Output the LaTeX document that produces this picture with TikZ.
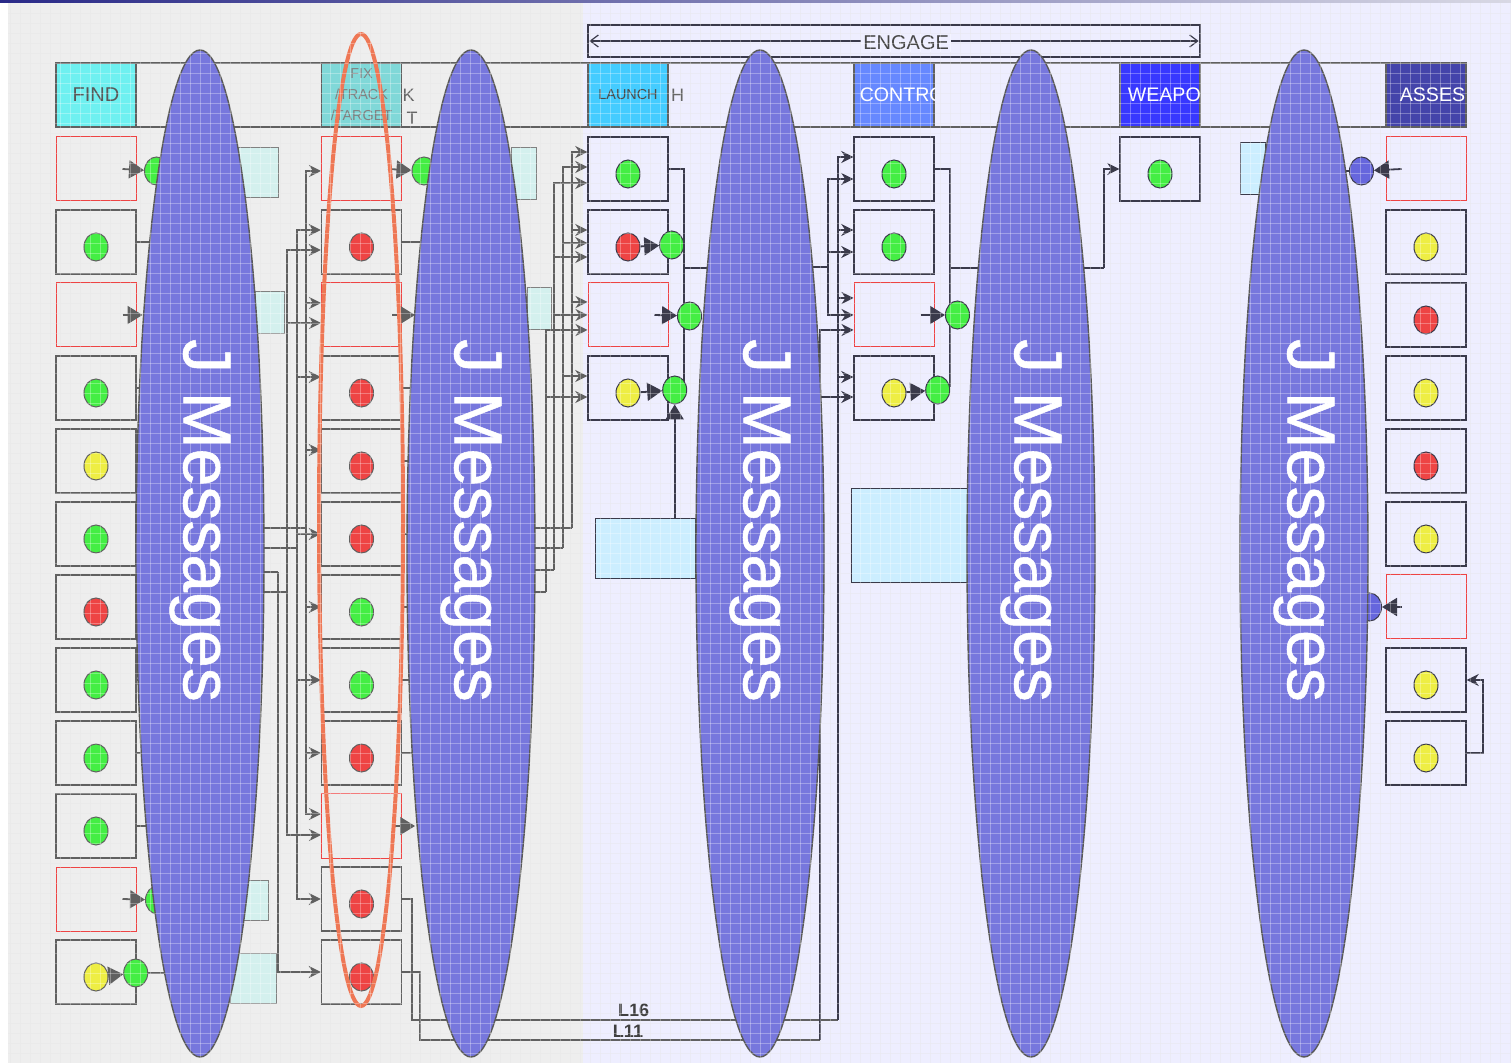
\documentclass[tikz,border=0pt]{standalone}
\usepackage{fontspec}
\setmainfont{Liberation Sans}
\newfontfamily\msgfont[FakeBold=0.8]{Liberation Sans}
\usepackage{tikz}
\usetikzlibrary{shapes.geometric,arrows.meta,positioning}

\definecolor{paper}{HTML}{EEEEEE}
\definecolor{lav}{HTML}{EEEEFF}
\definecolor{topnavy}{HTML}{2A2A88}
\definecolor{toplight}{HTML}{D8D8E4}
\definecolor{findc}{HTML}{6EF0F0}
\definecolor{fixc}{HTML}{80D8D8}
\definecolor{launchc}{HTML}{44CCFF}
\definecolor{ctrlc}{HTML}{6688FF}
\definecolor{weapc}{HTML}{3838FF}
\definecolor{assesc}{HTML}{4444AA}
\definecolor{msgc}{HTML}{7777DD}
\definecolor{ringc}{HTML}{EE7755}
\definecolor{padc}{HTML}{D4F0EE}
\definecolor{padb}{HTML}{CCEEFF}
\definecolor{wireL}{HTML}{606060}
\definecolor{wireR}{HTML}{3A3A4A}
\definecolor{gdot}{HTML}{44EE44}
\definecolor{rdot}{HTML}{EE4444}
\definecolor{ydot}{HTML}{EEEE44}
\definecolor{bdot}{HTML}{6666DD}
\definecolor{redline}{HTML}{EE4444}

\begin{document}
\begin{tikzpicture}[
    x=0.5pt, y=-0.5pt,
    cell/.style={rectangle, draw=wireL, line width=.7pt, minimum width=40pt, minimum height=32pt, inner sep=0pt},
    cellR/.style={draw=redline, line width=.5pt},
    cellg/.style={}, celly/.style={}, cellr/.style={},
    dot/.style={ellipse, draw=wireL, line width=.5pt, minimum width=12pt, minimum height=14pt, inner sep=0pt},
    dotg/.style={fill=gdot}, doty/.style={fill=ydot}, dotr/.style={fill=rdot}, dotb/.style={fill=bdot},
    hdr/.style={rectangle, draw=wireL, line width=.6pt, minimum width=40pt, minimum height=32pt, inner sep=0pt},
    hdrtxt/.style={anchor=west, inner sep=0pt, text=white, font=\fontsize{9.8}{9.8}\selectfont},
    pad/.style={rectangle, draw=wireL!80, fill=padc, line width=.5pt, inner sep=0pt},
    link/.style={draw=wireL, line width=.9pt},
    dark/.style={draw=wireR},
    arrow/.style={link, -{Stealth[length=6pt, width=6pt]}},
    gate/.style={link, -{Triangle[length=7.5pt, width=9pt]}},
    jmsg/.style={ellipse, draw=black!65, fill=msgc, line width=.7pt, text=white, rotate=-90,
        minimum width=503.5pt, minimum height=64pt, inner sep=0pt, font=\msgfont\fontsize{34}{34}\selectfont},
    lbl/.style={inner sep=1pt, text=black!75, font=\bfseries\fontsize{9}{9}\selectfont},
    gridlo/.style={black, opacity=.05, line width=.4pt},
    gridhi/.style={white, opacity=.3, line width=.4pt}
]
    % Page and grid
    \fill[white] (0,0) rectangle (1511,1063);
    \useasboundingbox (0,0) rectangle (1511,1063);
    \fill[paper] (8,3) rectangle (583,1063);
    \fill[lav] (583,3) rectangle (1511,1063);
    \shade[left color=topnavy, right color=toplight] (0,0) rectangle (1511,3);
    \foreach \gx in {10,20,...,1510} \draw[gridlo] (\gx,3) -- (\gx,1063);
    \foreach \gy in {13,23,...,1063} \draw[gridlo] (8,\gy) -- (1511,\gy);

    % Ellipse centres
    \coordinate (jm1c) at (200,553.5);
    \coordinate (jm2c) at (471,553.5);
    \coordinate (jm3c) at (760,553.5);
    \coordinate (jm4c) at (1031,553.5);
    \coordinate (jm5c) at (1304,553.5);

    % Engage span
    \node[draw=wireR, line width=.6pt, minimum width=306pt, minimum height=16pt, inner sep=0pt] (engage) at (894,41) {};
    \draw[{Straight Barb[length=4pt, width=6pt]}-{Straight Barb[length=4pt, width=6pt]}, wireR, line width=.6pt]
        ([xshift=1pt]engage.west) -- node[fill=lav, inner sep=1pt, text=black!72, font=\fontsize{10}{10}\selectfont, pos=.52, yshift=-1pt] (engage-t) {ENGAGE} ([xshift=-1pt]engage.east);

    % Header band
    \node[draw=wireL, line width=.6pt, minimum width=705pt, minimum height=32pt, inner sep=0pt] (band) at (761,95) {};
    \node[hdr, fill=findc, text=black!65, font=\fontsize{10}{10}\selectfont] (find-h) at (96,95) {FIND};
    \node[hdr, fill=fixc, text=black!50, align=center, font=\fontsize{7.2}{10.5}\selectfont] (fix-h) at (361.5,95) {FIX\\/TRACK\\/TARGET};
    \node[anchor=west, inner sep=0pt, text=black!60, font=\fontsize{9}{9}\selectfont] (fix-k) at (fix-h.east) {K};
    \node[anchor=west, inner sep=0pt, text=black!60, font=\fontsize{9}{9}\selectfont] (fix-t) at ([xshift=2pt, yshift=-11.5pt]fix-h.east) {T};
    \node[hdr, fill=launchc, text=black!70, font=\fontsize{7.2}{7.2}\selectfont] (launch-h) at (628,95) {LAUNCH};
    \node[anchor=west, inner sep=0pt, text=black!60, font=\fontsize{9}{9}\selectfont] (launch-k) at ([xshift=1pt]launch-h.east) {H};
    \node[hdr, fill=ctrlc] (ctrl-h) at (894,95) {};
    \node[hdr, fill=weapc] (weap-h) at (1160,95) {};
    \node[hdr, fill=assesc] (asses-h) at (1426,95) {};
    \begin{scope}
        \clip (ctrl-h.south west) rectangle (ctrl-h.north east);
        \node[hdrtxt] (ctrl-t) at ([xshift=3pt]ctrl-h.west) {CONTRO};
    \end{scope}
    \begin{scope}
        \clip (weap-h.south west) rectangle (weap-h.north east);
        \node[hdrtxt] (weap-t) at ([xshift=4pt]weap-h.west) {WEAPO};
    \end{scope}
    \begin{scope}
        \clip (asses-h.south west) rectangle (asses-h.north east);
        \node[hdrtxt] (asses-t) at ([xshift=7pt]asses-h.west) {ASSES};
    \end{scope}

    % Side pads
    \node[pad, minimum width=20pt, minimum height=25pt] (pad-1) at (258,173) {};
    \node[pad, minimum width=14.5pt, minimum height=21pt] (pad-2) at (269.5,313) {};
    \node[pad, minimum width=14pt, minimum height=20pt] (pad-3) at (254,900) {};
    \node[pad, minimum width=23pt, minimum height=25pt] (pad-4) at (253,978) {};
    \node[pad, minimum width=12.5pt, minimum height=26pt] (pad-5) at (523.5,174) {};
    \node[pad, minimum width=12pt, minimum height=21pt] (pad-6) at (539,309) {};
    \node[pad, fill=padb, draw=wireR, minimum width=50pt, minimum height=30pt] (pad-7) at (645,549) {};
    \node[pad, fill=padb, draw=wireR, minimum width=58.5pt, minimum height=47pt] (pad-8) at (909.5,536) {};
    \node[pad, fill=padb, draw=wireR, minimum width=12.5pt, minimum height=26pt] (pad-9) at (1252.5,169) {};

    % Cells
    \foreach \ty [count=\k] in {R,g,R,g,y,g,r,g,g,g,R,y} {
        \node[cell, cell\ty] (find-\k) at (96,{169+73*(\k-1)}) {};
        \if R\ty\else\node[dot, dot\ty] (find-\k-dot) at ([yshift=-2.5pt]find-\k.center) {};\fi
    }
    \foreach \ty [count=\k] in {R,r,R,r,r,r,g,g,r,R,r,r} {
        \node[cell, cell\ty] (fix-\k) at (361.5,{169+73*(\k-1)}) {};
        \if R\ty\else\node[dot, dot\ty] (fix-\k-dot) at ([yshift=-2.5pt]fix-\k.center) {};\fi
    }
    \foreach \ty [count=\k] in {g,r,R,y} {
        \node[cell, draw=wireR, cell\ty] (launch-\k) at (628,{169+73*(\k-1)}) {};
        \if R\ty\else\node[dot, draw=wireR, dot\ty] (launch-\k-dot) at ([yshift=-2.5pt]launch-\k.center) {};\fi
    }
    \foreach \ty [count=\k] in {g,g,R,y} {
        \node[cell, draw=wireR, cell\ty] (ctrl-\k) at (894,{169+73*(\k-1)}) {};
        \if R\ty\else\node[dot, draw=wireR, dot\ty] (ctrl-\k-dot) at ([yshift=-2.5pt]ctrl-\k.center) {};\fi
    }
    \node[cell, draw=wireR] (weap-1) at (1160,169) {};
    \node[dot, draw=wireR, dotg] (weap-1-dot) at ([yshift=-2.5pt]weap-1.center) {};
    \foreach \ty [count=\k] in {R,y,r,y,r,y,R,y,y} {
        \node[cell, draw=wireR, cell\ty] (asses-\k) at (1426,{169+73*(\k-1)}) {};
        \if R\ty\else\node[dot, draw=wireR, dot\ty] (asses-\k-dot) at ([yshift=-2.5pt]asses-\k.center) {};\fi
    }

    % FIND -> FIX
    \foreach \k in {2,4,5,6,7,8,9,10} \draw[link] (find-\k.east) -- (jm1c |- find-\k.east);
    \coordinate (fb1) at (306,528);
    \coordinate (fb2) at (297,548);
    \coordinate (fb3) at (287,592);
    \coordinate (fb4) at (278,572);
    \foreach \b in {fb1,fb2,fb3,fb4} \draw[link] (jm1c |- \b) -- (\b);
    \foreach \n/\dy in {fix-1/-1pt, fix-3/6pt, fix-5/5.5pt, fix-7/0pt, fix-9/0pt, fix-10/6pt}
        \draw[arrow] (fb1) |- ([yshift=\dy]\n.west);
    \foreach \n/\dy in {fix-2/6pt, fix-4/5.5pt, fix-6/0pt, fix-8/0pt, fix-11/0pt}
        \draw[arrow] (fb2) |- ([yshift=\dy]\n.west);
    \foreach \n/\dy in {fix-2/-4pt, fix-3/-4pt, fix-10/-4.5pt}
        \draw[arrow] (fb3) |- ([yshift=\dy]\n.west);
    \draw[arrow] (fb4) |- (fix-12.west);

    % FIX -> LAUNCH
    \foreach \k in {2,4,5,6,7,8,9} \draw[link] (fix-\k.east) -- (jm2c |- fix-\k.east);
    \coordinate (lb1) at (572,528);
    \coordinate (lb2) at (563,548);
    \coordinate (lb3) at (554,570);
    \coordinate (lb4) at (546,592);
    \foreach \b in {lb1,lb2,lb3,lb4} \draw[link] (jm2c |- \b) -- (\b);
    \foreach \n/\dy in {launch-1/8.5pt, launch-2/6pt, launch-3/6.5pt}
        \draw[arrow] (lb1) |- ([yshift=\dy]\n.west);
    \foreach \n/\dy in {launch-1/1pt, launch-2/-0.5pt, launch-4/6pt}
        \draw[arrow] (lb2) |- ([yshift=\dy]\n.west);
    \foreach \n/\dy in {launch-1/-7pt, launch-2/-7.5pt, launch-3/0pt}
        \draw[arrow] (lb3) |- ([yshift=\dy]\n.west);
    \foreach \n/\dy in {launch-3/-7.5pt, launch-4/-4.5pt}
        \draw[arrow] (lb4) |- ([yshift=\dy]\n.west);

    % L16 / L11 links
    \coordinate (l16a) at (412,1020);
    \coordinate (cb1) at (838,1020);
    \coordinate (l11a) at (420,1040);
    \coordinate (cb3) at (820,1040);
    \draw[link] (fix-11.east) -| (l16a) -- node[lbl, above, pos=.52] (l16) {L16} (cb1);
    \draw[link] (fix-12.east) -| (l11a) -- node[lbl, above, pos=.52] (l11) {L11} (cb3);

    % LAUNCH -> CONTROL
    \coordinate (lv) at (684,387);
    \coordinate (lj) at (684,268);
    \draw[link, dark] (launch-1.east) -| (lv);
    \draw[link, dark] (lj) -- (jm3c |- lj);
    \coordinate (cb2) at (828,267);
    \draw[link, dark] (jm3c |- cb2) -- (cb2);
    \foreach \n/\dy in {ctrl-1/6pt, ctrl-2/6pt, ctrl-3/8.5pt, ctrl-4/5.5pt}
        \draw[arrow, dark] (cb1) |- ([yshift=\dy]\n.west);
    \foreach \n/\dy in {ctrl-1/-5pt, ctrl-2/-5pt, ctrl-3/0pt}
        \draw[arrow, dark] (cb2) |- ([yshift=\dy]\n.west);
    \foreach \n/\dy in {ctrl-3/-7.5pt, ctrl-4/-4.5pt}
        \draw[arrow, dark] (cb3) |- ([yshift=\dy]\n.west);

    % CONTROL -> WEAPON
    \coordinate (cv) at (950,387);
    \coordinate (cj) at (950,268);
    \draw[link, dark] (ctrl-1.east) -| (cv);
    \draw[link, dark] (cj) -- (jm4c |- cj);
    \coordinate (wj) at (1104,268);
    \draw[link, dark] (jm4c |- wj) -- (wj);
    \draw[arrow, dark] (wj) |- (weap-1.west);

    % ASSESS
    \draw[arrow, dark] (asses-9.east) -- ++(8pt,0) |- (asses-8.east);

    % Gates
    \node[dot, dotg] (f1o) at ([xshift=10pt, yshift=-1pt]find-1.east) {};
    \draw[gate] ([xshift=-7pt]find-1.east) -- (f1o);
    \draw[gate] ([xshift=-7pt]find-3.east) -- ([xshift=3pt]find-3.east);
    \node[dot, dotg] (f11o) at ([xshift=10.5pt, yshift=-.5pt]find-11.east) {};
    \draw[gate] ([xshift=-7pt]find-11.east) -- (f11o);
    \node[dot, dotg] (f12o) at ([xshift=-.5pt, yshift=-.5pt]find-12.east) {};
    \draw[link] (f12o) -- (jm1c |- f12o);
    \draw[gate] (find-12-dot) -- (f12o);
    \node[dot, dotg] (x1o) at ([xshift=11pt, yshift=-1pt]fix-1.east) {};
    \draw[gate] ([xshift=-7pt]fix-1.east) -- (x1o);
    \draw[gate] ([xshift=-5pt]fix-3.east) -- ([xshift=6.5pt]fix-3.east);
    \draw[gate] ([xshift=-5pt]fix-10.east) -- ([xshift=6.5pt]fix-10.east);
    \node[dot, draw=wireR, dotg] (l2o) at ([xshift=1.5pt, yshift=-1.5pt]launch-2.east) {};
    \draw[gate, dark] (launch-2-dot) -- (l2o);
    \node[dot, draw=wireR, dotg] (l3o) at ([xshift=10.5pt, yshift=-.5pt]launch-3.east) {};
    \draw[gate, dark] ([xshift=-7pt]launch-3.east) -- (l3o);
    \node[dot, draw=wireR, dotg] (l4o) at ([xshift=3pt, yshift=-1pt]launch-4.east) {};
    \draw[gate, dark] (launch-4-dot) -- (l4o);
    \draw[gate, dark] (pad-7.north -| l4o) -- (l4o.south);
    \node[dot, draw=wireR, dotg] (c3o) at ([xshift=11.5pt]ctrl-3.east) {};
    \draw[gate, dark] ([xshift=-7pt]ctrl-3.east) -- (c3o);
    \node[dot, draw=wireR, dotg] (c4o) at ([xshift=1.5pt, yshift=-1pt]ctrl-4.east) {};
    \draw[gate, dark] (ctrl-4-dot) -- (c4o);
    \node[dot, draw=wireR, dotb] (a1o) at ([xshift=-12pt, yshift=-1pt]asses-1.west) {};
    \draw[link, dark] (a1o) -- (jm5c |- a1o);
    \draw[gate, dark] ([xshift=8pt]asses-1.west) -- (a1o);
    \node[dot, draw=wireR, dotb] (a7o) at ([xshift=-8pt]asses-7.west) {};
    \draw[gate, dark] ([xshift=8pt]asses-7.west) -- (a7o);

    % Fix/Track/Target ring
    \node[ellipse, draw=ringc, line width=2pt, minimum width=42pt, minimum height=486pt, inner sep=0pt] (ring) at (361,520) {};

    % J Messages
    \node[jmsg] (jm1) at (jm1c) {J Messages\hspace*{33pt}};
    \node[jmsg] (jm2) at (jm2c) {J Messages\hspace*{33pt}};
    \node[jmsg] (jm3) at (jm3c) {J Messages\hspace*{33pt}};
    \node[jmsg] (jm4) at (jm4c) {J Messages\hspace*{33pt}};
    \node[jmsg] (jm5) at (jm5c) {J Messages\hspace*{33pt}};

    % Grid overlay
    \foreach \gx in {10,20,...,1510} \draw[gridhi] (\gx,3) -- (\gx,1063);
    \foreach \gy in {13,23,...,1063} \draw[gridhi] (8,\gy) -- (1511,\gy);
\end{tikzpicture}
\end{document}
